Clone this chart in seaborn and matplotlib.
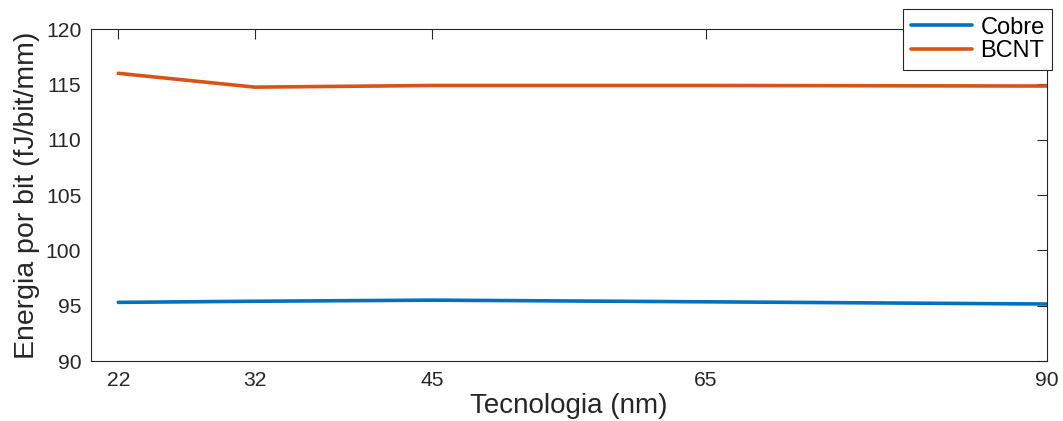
import matplotlib
matplotlib.use("Agg")
import matplotlib.pyplot as plt
import seaborn as sns
import pandas as pd

tecnologia = [22, 32, 45, 65, 90]
cobre = [95.3, 95.4, 95.5, 95.35, 95.15]
bcnt = [116.0, 114.75, 114.9, 114.9, 114.85]
series_names = ["Cobre", "BCNT"]
colors = ["#0072BD", "#D95319"]
xticks = [22, 32, 45, 65, 90]
yticks = [90, 95, 100, 105, 110, 115, 120]

sns.set_style("white")
plt.rcParams["font.family"] = ["Liberation Sans", "DejaVu Sans"]

df = pd.DataFrame({
    "x": tecnologia * 2,
    "y": cobre + bcnt,
    "serie": [series_names[0]] * len(tecnologia) + [series_names[1]] * len(tecnologia),
})

fig = plt.figure(figsize=(10.63, 4.21), dpi=100)
ax = fig.add_axes([0.0856, 0.1425, 0.8994, 0.7885])
sns.lineplot(data=df, x="x", y="y", hue="serie", palette=colors, linewidth=2.6,
             ax=ax, legend=True)

ax.set_xlim(20, 90)
ax.set_ylim(90, 120)
ax.set_xticks(xticks)
ax.set_yticks(yticks)
ax.tick_params(direction="in", length=7, width=0.8, colors="#262626",
               labelsize=15.2, top=True, right=True, pad=7)
for s in ax.spines.values():
    s.set_color("#262626")
    s.set_linewidth(0.8)
ax.set_xlabel("Tecnologia (nm)", fontsize=20, color="#262626", labelpad=2)
ax.set_ylabel("Energia por bit (fJ/bit/mm)", fontsize=20.5, color="#262626", labelpad=4)

leg = ax.legend(loc="upper right", bbox_to_anchor=(0.990, 0.979),
                bbox_transform=fig.transFigure, fontsize=17, frameon=True,
                fancybox=False, edgecolor="#262626", framealpha=1,
                handlelength=2.6, handletextpad=0.35, borderpad=0.33,
                labelspacing=0.05, borderaxespad=0)
leg.get_frame().set_linewidth(0.8)
for t in leg.get_texts():
    t.set_color("black")
for line in leg.get_lines():
    line.set_linewidth(2.6)

fig.savefig("out.png", dpi=100)
